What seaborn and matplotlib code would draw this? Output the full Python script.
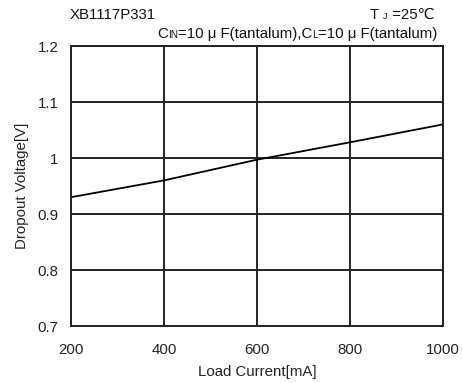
import matplotlib
matplotlib.use("Agg")
import matplotlib.pyplot as plt
import seaborn as sns
import pandas as pd
from matplotlib.offsetbox import TextArea, HPacker, AnchoredOffsetbox

# Dropout voltage vs. load current
load_current = [200, 400, 600, 800, 1000]
dropout_voltage = [0.93, 0.96, 0.997, 1.028, 1.06]
x_ticks = [200, 400, 600, 800, 1000]
y_ticks = [0.7, 0.8, 0.9, 1.0, 1.1, 1.2]
y_tick_labels = ["0.7", "0.8", "0.9", "1", "1.1", "1.2"]

sns.set_style("white")
plt.rcParams["font.family"] = ["Liberation Sans", "DejaVu Sans"]

FS = 10.8
df = pd.DataFrame({"current": load_current, "voltage": dropout_voltage})

fig = plt.figure(figsize=(4.62, 3.83), dpi=100)
ax = fig.add_axes([71 / 462, 1 - 326 / 383, 372 / 462, 280 / 383])

sns.lineplot(data=df, x="current", y="voltage", ax=ax, color="black", linewidth=1.3)

ax.set_xlim(200, 1000)
ax.set_ylim(0.7, 1.2)
ax.set_xticks(x_ticks)
ax.set_yticks(y_ticks)
ax.set_yticklabels(y_tick_labels)
ax.grid(True, color="#222222", linewidth=1.4)
for s in ax.spines.values():
    s.set_color("#222222")
    s.set_linewidth(1.4)
ax.tick_params(axis="both", length=0, labelsize=FS, colors="#222222")
ax.tick_params(axis="x", pad=12)
ax.tick_params(axis="y", pad=9)
ax.set_xlabel("Load Current[mA]", fontsize=FS, color="#222222", labelpad=6)
ax.set_ylabel("Dropout Voltage[V]", fontsize=FS, color="#222222", labelpad=6)


def text_row(parts):
    boxes = [TextArea(t, textprops=dict(fontsize=sz, color="#111111")) for t, sz in parts]
    return HPacker(children=boxes, align="baseline", pad=0, sep=0)


fig.text(70 / 462, 1 - 19 / 383, "XB1117P331", fontsize=FS, color="#111111")

tj = text_row([("T ", FS), ("J", 6.5), (" =25℃", FS)])
fig.add_artist(AnchoredOffsetbox(loc="lower right", child=tj, frameon=False, pad=0, borderpad=0,
                                 bbox_to_anchor=(434 / 462, 1 - 22 / 383),
                                 bbox_transform=fig.transFigure))

caps = text_row([("C", FS), ("IN", 7.2), ("=10 μ F(tantalum),C", FS), ("L", 7.2),
                 ("=10 μ F(tantalum)", FS)])
fig.add_artist(AnchoredOffsetbox(loc="lower right", child=caps, frameon=False, pad=0, borderpad=0,
                                 bbox_to_anchor=(437 / 462, 1 - 41 / 383),
                                 bbox_transform=fig.transFigure))

fig.savefig("out.png", dpi=100)
